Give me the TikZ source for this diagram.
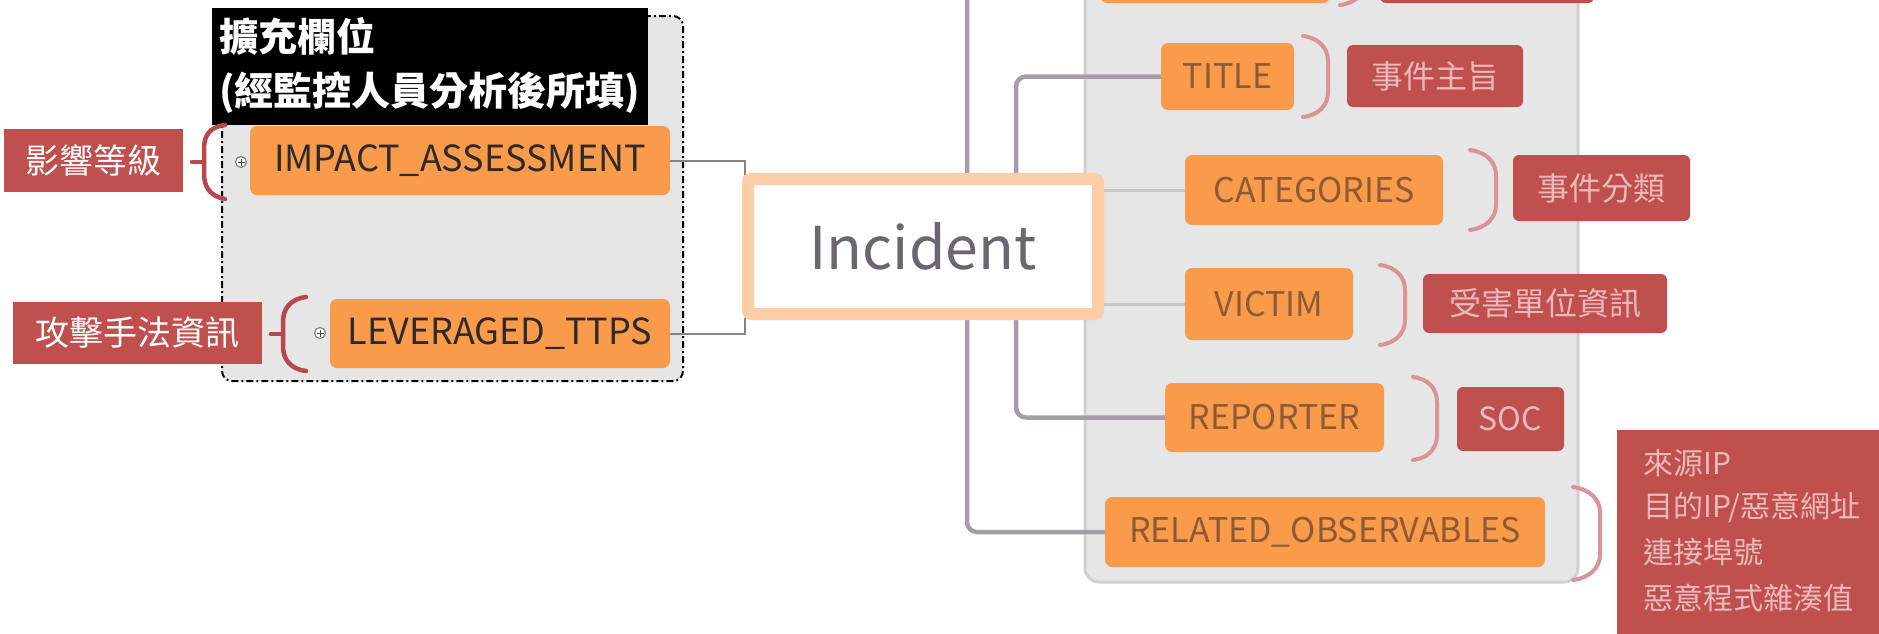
\documentclass[tikz,border=0pt]{standalone}
\usepackage{fontspec}
\setmainfont{Noto Sans CJK TC}
\usetikzlibrary{calc}
\pgfdeclarelayer{bg}
\pgfsetlayers{bg,main}
\definecolor{orng}{HTML}{FA9A4B}
\definecolor{redl}{HTML}{C0504D}
\definecolor{brk}{HTML}{B6484E}
\definecolor{brkr}{HTML}{D99497}
\definecolor{panel}{HTML}{E6E6E6}
\definecolor{panelb}{HTML}{D0D0D0}
\definecolor{peach}{HTML}{FCCDA6}
\definecolor{vconn}{HTML}{A59DA8}
\definecolor{hconn}{HTML}{C8C8C8}
\definecolor{lconn}{HTML}{858585}
\definecolor{txtdark}{HTML}{2E2A28}
\definecolor{txtblur}{HTML}{8E5A34}
\definecolor{txtpink}{HTML}{EBB9B9}
\definecolor{inctxt}{HTML}{6B6670}
\begin{document}
\begin{tikzpicture}[x=1pt,y=-1pt,
  obox/.style={fill=orng, rounded corners=7pt, inner sep=0pt, outer sep=0pt, text=txtdark, font=\fontsize{36}{42}\selectfont},
  oboxr/.style={obox, text=txtblur, font=\fontsize{34}{40}\selectfont},
  rbox/.style={fill=redl, inner sep=0pt, outer sep=0pt, text=white, font=\fontsize{34}{40}\selectfont},
  rboxr/.style={rbox, rounded corners=6pt, text=txtpink, font=\fontsize{32}{38}\selectfont},
  rtext/.style={anchor=west, inner sep=0pt, text=txtpink, font=\fontsize{30}{36}\selectfont},
  brace/.style={draw=brk, line width=4.5pt, line cap=round},
  bracer/.style={draw=brkr, line width=4pt, line cap=round},
  lconnector/.style={draw=lconn, line width=2pt},
  vconnector/.style={draw=vconn, line width=4.5pt, rounded corners=10pt},
  hconnector/.style={draw=hconn, line width=3pt},
  plusbtn/.style={circle, draw=gray, line width=1.2pt, fill=white, minimum size=11pt, inner sep=0pt,
    path picture={\draw[line width=1pt, black!70] ([xshift=-3.5pt]path picture bounding box.center) -- ([xshift=3.5pt]path picture bounding box.center);
                  \draw[line width=1pt, black!70] ([yshift=-3.5pt]path picture bounding box.center) -- ([yshift=3.5pt]path picture bounding box.center);}},
  hdrtext/.style={anchor=base west, inner sep=0pt, text=white, font=\bfseries\fontsize{39}{47}\selectfont}
]
\useasboundingbox (0,0) rectangle (1879,633);
\clip (0,0) rectangle (1879,633);

% ---------- left group ----------
\node[fill=black, anchor=north west, minimum width=436pt, minimum height=117pt, inner sep=0pt] (hdr) at (212,8) {};
\node[hdrtext] (hdr1) at (219,51) {擴充欄位};
\node[hdrtext] (hdr2) at (219,105) {(經監控人員分析後所填)};

\node[obox, minimum width=420pt, minimum height=69pt] (impact) at (460,160.5) {IMPACT\_ASSESSMENT};
\node[obox, minimum width=340pt, minimum height=69pt] (lever) at (500,333.5) {LEVERAGED\_TTPS};
\node[rbox, minimum width=179pt, minimum height=63pt] (lab1) at (93.5,160.5) {影響等級};
\node[rbox, minimum width=249pt, minimum height=62pt] (lab2) at (137.5,333) {攻擊手法資訊};
\node[plusbtn] (pb1) at (241,162) {};
\node[plusbtn] (pb2) at (320,333) {};

\draw[brace] (225,125) .. controls (209,127) and (204,136) .. (204,149) -- (204,173) .. controls (204,186) and (209,196) .. (225,199);
\draw[brace] (192,162) -- (204,162);
\draw[brace] (306,297) .. controls (290,299) and (283,309) .. (283,322) -- (283,346) .. controls (283,359) and (290,369) .. (306,371);
\draw[brace] (271,334) -- (283,334);

% ---------- centre ----------
\node[draw=peach, line width=12pt, fill=white, minimum width=350pt, minimum height=135pt, inner sep=0pt, outer sep=0pt, rounded corners=3pt, text=inctxt, font=\fontsize{59}{64}\selectfont] (inc) at (923,246.5) {Incident};

% ---------- right group ----------
\node[obox, minimum width=230pt, minimum height=66pt] (topo) at (1215,-30) {};
\node[rboxr, minimum width=214pt, minimum height=66pt] (topl) at (1487,-30) {};
\node[oboxr, minimum width=133pt, minimum height=67pt] (title) at (1227.5,76.5) {TITLE};
\node[oboxr, minimum width=258pt, minimum height=70pt] (cat) at (1314,190) {CATEGORIES};
\node[oboxr, minimum width=168pt, minimum height=72pt] (vic) at (1269,304) {VICTIM};
\node[oboxr, minimum width=219pt, minimum height=69pt] (rep) at (1274.5,417.5) {REPORTER};
\node[oboxr, minimum width=440pt, minimum height=70pt] (rel) at (1325,532) {RELATED\_OBSERVABLES};

\node[rboxr, minimum width=176pt, minimum height=62pt] (titlel) at (1435,76) {事件主旨};
\node[rboxr, minimum width=177pt, minimum height=66pt] (catl) at (1601.5,188) {事件分類};
\node[rboxr, minimum width=244pt, minimum height=59pt] (vicl) at (1545,303.5) {受害單位資訊};
\node[rboxr, minimum width=107pt, minimum height=64pt] (repl) at (1510.5,419) {SOC};
\node[rbox, anchor=north west, minimum width=280pt, minimum height=220pt] (rell) at (1617,430) {};
\node[rtext] (rl1) at (1643,463) {來源IP};
\node[rtext] (rl2) at (1643,507) {目的IP/惡意網址};
\node[rtext] (rl3) at (1643,552) {連接埠號};
\node[rtext] (rl4) at (1643,598) {惡意程式雜湊值};

\draw[bracer] (1340,-75) .. controls (1356,-73) and (1366,-63) .. (1366,-50) -- (1366,-20) .. controls (1366,-7) and (1356,3) .. (1340,5);
\draw[bracer] (1303,36) .. controls (1319,38) and (1328,48) .. (1328,61) -- (1328,92) .. controls (1328,105) and (1319,115) .. (1303,117);
\draw[bracer] (1470,150) .. controls (1486,152) and (1496,162) .. (1496,175) -- (1496,205) .. controls (1496,218) and (1486,228) .. (1470,230);
\draw[bracer] (1380,265) .. controls (1396,267) and (1405,277) .. (1405,290) -- (1405,320) .. controls (1405,333) and (1396,343) .. (1380,345);
\draw[bracer] (1413,377) .. controls (1429,379) and (1437,389) .. (1437,402) -- (1437,435) .. controls (1437,448) and (1429,458) .. (1413,460);
\draw[bracer] (1573,487) .. controls (1589,489) and (1600,499) .. (1600,512) -- (1600,555) .. controls (1600,568) and (1589,578) .. (1573,580);

% ---------- background: page, panels and connectors ----------
\begin{pgfonlayer}{bg}
\fill[white] (0,0) rectangle (1879,633);
\draw[fill=panel, draw=panelb, line width=3pt, rounded corners=14pt] (1085,-40) rectangle (1578,582);
\draw[fill=panel, draw=black, line width=2pt, dash pattern=on 7pt off 3pt on 2pt off 3pt, rounded corners=10pt] (222,16) rectangle (683,381);
\coordinate (lj) at (745,247);
\coordinate (va) at (967,0);
\coordinate (vb) at (1016,0);
\draw[lconnector] (impact.east) -- (impact.east -| lj) -- (lever.east -| lj) -- (lever.east);
\draw[vconnector] (inc.north -| va) |- (topo.west);
\draw[vconnector] (inc.north -| vb) |- (title.west);
\draw[vconnector] (inc.south -| vb) |- (rep.west);
\draw[vconnector] (inc.south -| va) |- (rel.west);
\draw[hconnector] (inc.east |- cat.west) -- (cat.west);
\draw[hconnector] (inc.east |- vic.west) -- (vic.west);
\end{pgfonlayer}
\end{tikzpicture}
\end{document}
